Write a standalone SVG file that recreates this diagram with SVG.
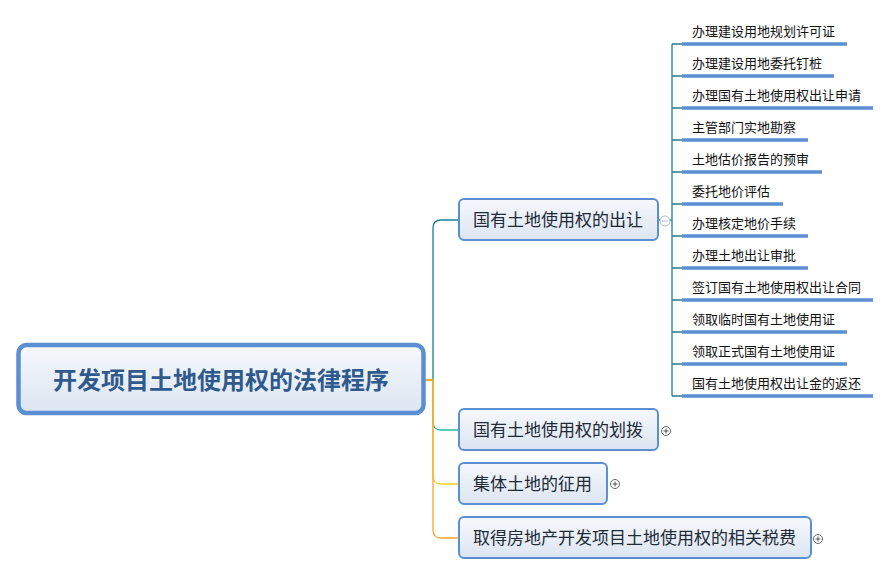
<svg xmlns="http://www.w3.org/2000/svg" width="891" height="575" viewBox="0 0 891 575">
<defs>
<linearGradient id="g" x1="0" y1="0" x2="0" y2="1">
<stop offset="0" stop-color="#f6f8fc"/>
<stop offset="1" stop-color="#dce5f1"/>
</linearGradient>
</defs>
<style>
.box{fill:url(#g);stroke:#5b8ed2;stroke-width:2}
.root{fill:url(#g);stroke:#5b8ed2;stroke-width:4.5}
.rt{font-family:"Noto Sans CJK SC",sans-serif;font-size:24px;font-weight:bold;fill:#2f5a8e}
.bt{font-family:"Noto Sans CJK SC",sans-serif;font-size:17px;fill:#222a36}
.st{font-family:"Noto Sans CJK SC",sans-serif;font-size:13px;fill:#111}
.ul{stroke:#5b8ed2;stroke-width:3.5;fill:none}
.tk{stroke:#1d7f94;stroke-width:1.3;fill:none}
.ic{fill:#fff;stroke-width:1}
</style>
<rect width="891" height="575" fill="#fff"/>
<g id="connectors" fill="none" stroke-width="1.3">
<path d="M425,380 H433 V228 Q433,220 441,220 H459" stroke="#1d7f94"/>
<path d="M425,380 H433 V422 Q433,430 441,430 H459" stroke="#2bb5a6"/>
<path d="M425,380 H433 V476 Q433,484 441,484 H459" stroke="#f6d21c"/>
<path d="M425,380 H433 V530 Q433,538 441,538 H459" stroke="#f4a634"/>
<path d="M659,220 H672" class="tk"/>
<path d="M672,44 V396" class="tk"/>
<path d="M672,44 H682 M672,76 H682 M672,108 H682 M672,140 H682 M672,172 H682 M672,204 H682 M672,236 H682 M672,268 H682 M672,300 H682 M672,332 H682 M672,364 H682 M672,396 H682" class="tk"/>
</g>
<g id="root">
<rect class="root" x="18.5" y="345" width="405" height="68" rx="8"/>
<text class="rt" x="221" y="389" text-anchor="middle">开发项目土地使用权的法律程序</text>
</g>
<g id="b1">
<rect class="box" x="459" y="199" width="199" height="41" rx="5"/>
<text class="bt" x="473" y="226">国有土地使用权的出让</text>
<circle class="ic" cx="665" cy="221" r="5" stroke="#aeb9d8"/>
<path d="M662,221 H668" stroke="#aeb9d8" stroke-width="1"/>
</g>
<g id="b2">
<rect class="box" x="459" y="409" width="199" height="41" rx="5"/>
<text class="bt" x="473" y="436">国有土地使用权的划拨</text>
<circle class="ic" cx="666" cy="431" r="4.5" stroke="#666"/>
<path d="M663.5,431 H668.5 M666,428.5 V433.5" stroke="#555" stroke-width="1"/>
</g>
<g id="b3">
<rect class="box" x="459" y="463" width="148" height="41" rx="5"/>
<text class="bt" x="473" y="490">集体土地的征用</text>
<circle class="ic" cx="615" cy="484" r="4.5" stroke="#666"/>
<path d="M612.5,484 H617.5 M615,481.5 V486.5" stroke="#555" stroke-width="1"/>
</g>
<g id="b4">
<rect class="box" x="459" y="517" width="352" height="41" rx="5"/>
<text class="bt" x="473" y="544">取得房地产开发项目土地使用权的相关税费</text>
<circle class="ic" cx="818" cy="539" r="4.5" stroke="#666"/>
<path d="M815.5,539 H820.5 M818,536.5 V541.5" stroke="#555" stroke-width="1"/>
</g>
<g id="s1"><path class="ul" d="M682,44 H847"/><text class="st" x="692" y="36">办理建设用地规划许可证</text></g>
<g id="s2"><path class="ul" d="M682,76 H834"/><text class="st" x="692" y="68">办理建设用地委托钉桩</text></g>
<g id="s3"><path class="ul" d="M682,108 H873"/><text class="st" x="692" y="100">办理国有土地使用权出让申请</text></g>
<g id="s4"><path class="ul" d="M682,140 H808"/><text class="st" x="692" y="132">主管部门实地勘察</text></g>
<g id="s5"><path class="ul" d="M682,172 H822"/><text class="st" x="692" y="164">土地估价报告的预审</text></g>
<g id="s6"><path class="ul" d="M682,204 H783"/><text class="st" x="692" y="196">委托地价评估</text></g>
<g id="s7"><path class="ul" d="M682,236 H808"/><text class="st" x="692" y="228">办理核定地价手续</text></g>
<g id="s8"><path class="ul" d="M682,268 H808"/><text class="st" x="692" y="260">办理土地出让审批</text></g>
<g id="s9"><path class="ul" d="M682,300 H873"/><text class="st" x="692" y="292">签订国有土地使用权出让合同</text></g>
<g id="s10"><path class="ul" d="M682,332 H847"/><text class="st" x="692" y="324">领取临时国有土地使用证</text></g>
<g id="s11"><path class="ul" d="M682,364 H847"/><text class="st" x="692" y="356">领取正式国有土地使用证</text></g>
<g id="s12"><path class="ul" d="M682,396 H873"/><text class="st" x="692" y="388">国有土地使用权出让金的返还</text></g>
</svg>
